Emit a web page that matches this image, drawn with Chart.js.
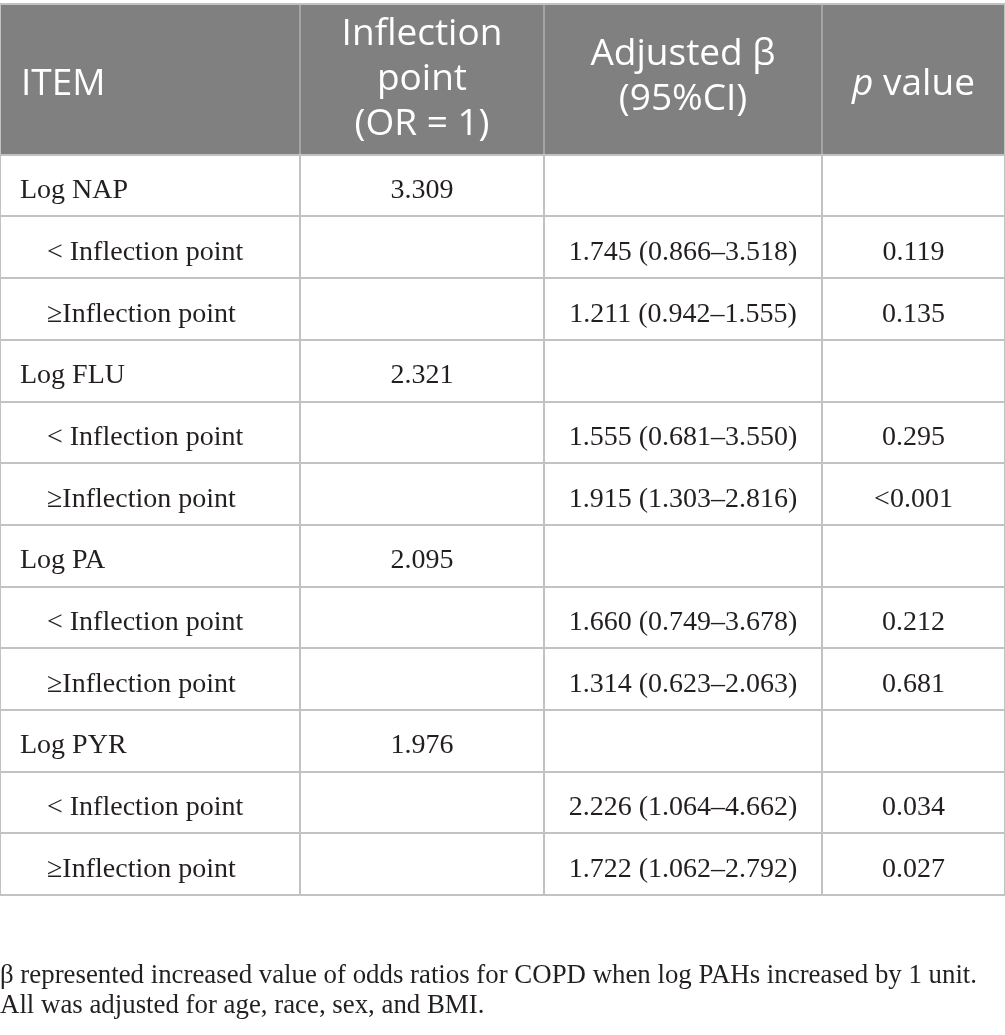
<!DOCTYPE html>
<html>
<head>
<meta charset="utf-8">
<script src="https://cdn.jsdelivr.net/npm/chart.js@4.4.0/dist/chart.umd.min.js"></script>
<style>
html,body{margin:0;padding:0;background:#fff;}
canvas{display:block;}
</style>
</head>
<body>
<canvas id="c" width="1005" height="1035"></canvas>
<script>
// ---------- DATA ----------
const items = ["Log NAP", "Log FLU", "Log PA", "Log PYR"];
const inflectionPoints = ["3.309", "2.321", "2.095", "1.976"];
const subgroupLabels = ["< Inflection point", "\u2265Inflection point"];
const betaEstimate = [[1.745, 1.211], [1.555, 1.915], [1.660, 1.314], [2.226, 1.722]];
const ciLower      = [[0.866, 0.942], [0.681, 1.303], [0.749, 0.623], [1.064, 1.062]];
const ciUpper      = [[3.518, 1.555], [3.550, 2.816], [3.678, 2.063], [4.662, 2.792]];
const pValues      = [["0.119", "0.135"], ["0.295", "<0.001"], ["0.212", "0.681"], ["0.034", "0.027"]];
const headerLines  = [["ITEM"], ["Inflection", "point", "(OR = 1)"], ["Adjusted \u03b2", "(95%CI)"], ["p value"]];
const footnotes = [
  "\u03b2 represented increased value of odds ratios for COPD when log PAHs increased by 1 unit.",
  "All was adjusted for age, race, sex, and BMI."
];

// ---------- LAYOUT / STYLE ----------
const columnEdges = [0, 300, 544, 822, 1005];
const HEADER_ROWS = 2.445;          // header height in row units
const TABLE_TOP = 4, TABLE_BOTTOM = 895;
const HEADER_BG = "#7f807f";
const GRID = "#c2c2c2";
const HEADER_GRID = "#a4a4a4";
const TEXT = "#231f20";
const SERIF = "'Liberation Serif', 'Times New Roman', serif";
const SANS = "'Open Sans', 'Lato', sans-serif";
const HFONT = 37;

// build body rows from the data arrays
const bodyRows = [];
items.forEach((it, k) => {
  bodyRows.push({label: it, indent: false, infl: inflectionPoints[k], beta: "", p: ""});
  subgroupLabels.forEach((s, j) => {
    const b = betaEstimate[k][j].toFixed(3) + " (" + ciLower[k][j].toFixed(3) + "\u2013" + ciUpper[k][j].toFixed(3) + ")";
    bodyRows.push({label: s, indent: true, infl: "", beta: b, p: pValues[k][j]});
  });
});
const rowCount = bodyRows.length;

// cells as scatter points (x in table pixel-units, y in row units)
const cellPoints = [];
bodyRows.forEach((r, i) => {
  const y = i + 0.5;
  cellPoints.push({x: r.indent ? 47 : 20, y, text: r.label, align: "left"});
  if (r.infl) cellPoints.push({x: (columnEdges[1] + columnEdges[2]) / 2, y, text: r.infl, align: "center"});
  if (r.beta) cellPoints.push({x: (columnEdges[2] + columnEdges[3]) / 2, y, text: r.beta, align: "center"});
  if (r.p) cellPoints.push({x: (columnEdges[3] + columnEdges[4]) / 2, y, text: r.p, align: "center"});
});

const tablePlugin = {
  id: "tablePlugin",
  beforeDraw(chart) {
    const ctx = chart.ctx, x = chart.scales.x, y = chart.scales.y;
    ctx.save();
    ctx.fillStyle = "#ffffff";
    ctx.fillRect(0, 0, chart.width, chart.height);
    const top = y.getPixelForValue(-HEADER_ROWS), bot = y.getPixelForValue(0);
    ctx.fillStyle = HEADER_BG;
    ctx.fillRect(x.getPixelForValue(columnEdges[0]), top, x.getPixelForValue(columnEdges[4]) - x.getPixelForValue(columnEdges[0]), bot - top);
    ctx.restore();
  },
  beforeDatasetsDraw(chart) {
    const ctx = chart.ctx, x = chart.scales.x, y = chart.scales.y;
    const top = y.getPixelForValue(-HEADER_ROWS), bot = y.getPixelForValue(0);
    ctx.save();
    ctx.strokeStyle = HEADER_GRID;
    ctx.lineWidth = 2;
    columnEdges.slice(1, -1).forEach(v => {
      const px = Math.round(x.getPixelForValue(v));
      ctx.beginPath(); ctx.moveTo(px, top + 1); ctx.lineTo(px, bot - 1); ctx.stroke();
    });
    ctx.restore();
  },
  afterDatasetsDraw(chart) {
    const ctx = chart.ctx, x = chart.scales.x, y = chart.scales.y;
    const meta = chart.getDatasetMeta(0);
    const data = chart.data.datasets[0].data;
    ctx.save();
    ctx.fillStyle = TEXT;
    ctx.font = "28px " + SERIF;
    ctx.textBaseline = "alphabetic";
    meta.data.forEach((el, i) => {
      const d = data[i];
      ctx.textAlign = d.align;
      ctx.fillText(d.text, el.x, el.y + 12.5);
    });

    // header text
    const top = y.getPixelForValue(-HEADER_ROWS);
    ctx.fillStyle = "#ffffff";
    ctx.font = HFONT + "px " + SANS;
    const lineGap = 45;
    ctx.textAlign = "left";
    ctx.fillText(headerLines[0][0], x.getPixelForValue(columnEdges[0]) + 21, top + 91);
    ctx.textAlign = "center";
    const c1 = (x.getPixelForValue(columnEdges[1]) + x.getPixelForValue(columnEdges[2])) / 2;
    headerLines[1].forEach((t, k) => ctx.fillText(t, c1, top + 41 + k * lineGap));
    const c2 = (x.getPixelForValue(columnEdges[2]) + x.getPixelForValue(columnEdges[3])) / 2;
    headerLines[2].forEach((t, k) => ctx.fillText(t, c2, top + 61 + k * lineGap));
    const c3 = (x.getPixelForValue(columnEdges[3]) + x.getPixelForValue(columnEdges[4])) / 2;
    const parts = headerLines[3][0].split(" ");
    ctx.font = "italic " + HFONT + "px " + SANS;
    const w1 = ctx.measureText(parts[0]).width;
    ctx.font = HFONT + "px " + SANS;
    const rest = " " + parts.slice(1).join(" ");
    const w2 = ctx.measureText(rest).width;
    const sx = c3 - (w1 + w2) / 2;
    ctx.textAlign = "left";
    ctx.font = "italic " + HFONT + "px " + SANS;
    ctx.fillText(parts[0], sx, top + 91);
    ctx.font = HFONT + "px " + SANS;
    ctx.fillText(rest, sx + w1, top + 91);

    // footnotes
    ctx.fillStyle = TEXT;
    ctx.font = "27px " + SERIF;
    const w = ctx.measureText(footnotes[0]).width;
    const sc = 977 / w;
    footnotes.forEach((t, k) => {
      ctx.save();
      ctx.translate(0, 983 + k * 30);
      ctx.scale(sc, 1);
      ctx.fillText(t, 0, 0);
      ctx.restore();
    });
    ctx.restore();
  }
};

const yTicks = [-HEADER_ROWS];
for (let i = 0; i <= rowCount; i++) yTicks.push(i);

new Chart(document.getElementById("c"), {
  type: "scatter",
  data: {
    datasets: [{
      data: cellPoints,
      pointRadius: 0,
      pointHoverRadius: 0,
      backgroundColor: "rgba(0,0,0,0)",
      borderColor: "rgba(0,0,0,0)"
    }]
  },
  plugins: [tablePlugin],
  options: {
    responsive: false,
    animation: false,
    events: [],
    layout: {padding: {top: TABLE_TOP, bottom: 1035 - TABLE_BOTTOM, left: 0, right: 0}},
    plugins: {legend: {display: false}, tooltip: {enabled: false}, title: {display: false}},
    scales: {
      x: {
        type: "linear", min: columnEdges[0], max: columnEdges[columnEdges.length - 1],
        ticks: {display: false}, border: {display: false},
        grid: {drawTicks: false, color: GRID, lineWidth: 2},
        afterBuildTicks: s => { s.ticks = columnEdges.map(v => ({value: v})); }
      },
      y: {
        type: "linear", reverse: true, min: -HEADER_ROWS, max: rowCount,
        ticks: {display: false}, border: {display: false},
        grid: {drawTicks: false, color: GRID, lineWidth: 2},
        afterBuildTicks: s => { s.ticks = yTicks.map(v => ({value: v})); }
      }
    }
  }
});
</script>
</body>
</html>
